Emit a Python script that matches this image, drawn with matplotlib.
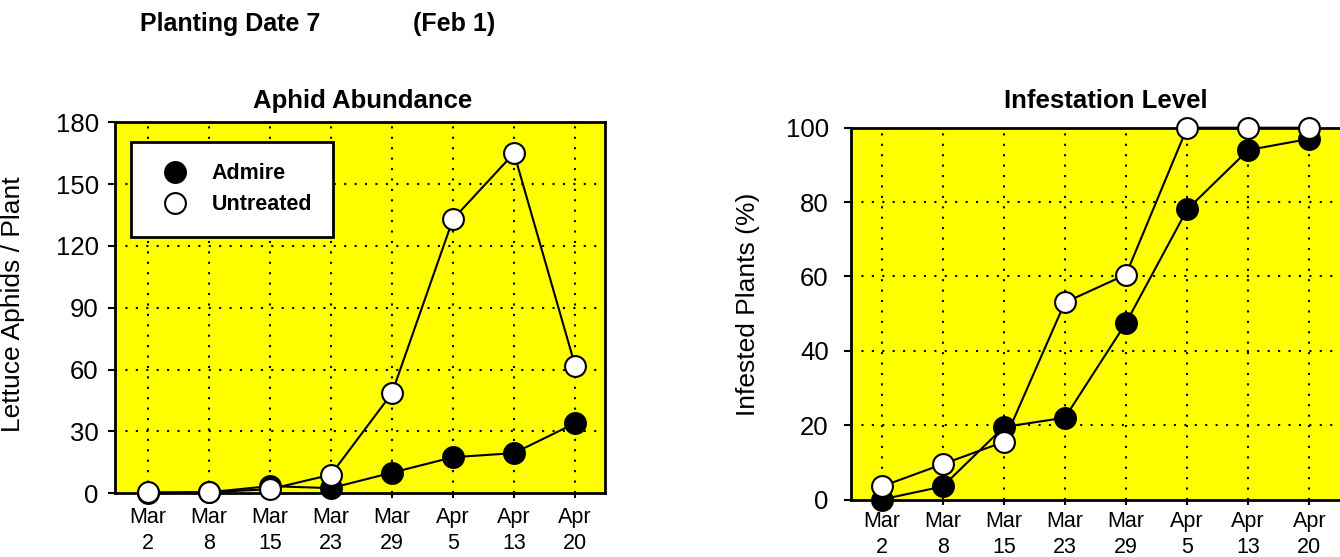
import numpy as np
import matplotlib
matplotlib.use('Agg')
import matplotlib.pyplot as plt
from matplotlib.lines import Line2D

plt.rcParams['font.family'] = ['Liberation Sans', 'DejaVu Sans']

# sampling dates (equally spaced categories)
dates = ['Mar\n2', 'Mar\n8', 'Mar\n15', 'Mar\n23', 'Mar\n29', 'Apr\n5', 'Apr\n13', 'Apr\n20']

# lettuce aphids per plant
aphid_admire = [0, 0.5, 3.5, 2.5, 10, 17.5, 19.5, 34]
aphid_untreated = [0.5, 0.5, 2, 9, 48.5, 133, 165, 62]
aphid_ticks = [0, 30, 60, 90, 120, 150, 180]

# infested plants (%)
infest_admire = [0, 3.5, 19.5, 22, 47.5, 78, 94, 97]
infest_untreated = [3.5, 9.5, 15.5, 53, 60.5, 100, 100, 100]
infest_ticks = [0, 20, 40, 60, 80, 100]

YELLOW = '#FFFF00'
MS = 15


def style_panel(ax, yticks, xlim, xpad):
    x = np.arange(len(dates))
    ax.set_facecolor(YELLOW)
    ax.set_xlim(*xlim)
    ax.set_ylim(yticks[0], yticks[-1])
    ax.set_xticks(x)
    ax.set_xticklabels(dates, fontsize=15.5, linespacing=1.3)
    ax.set_yticks(yticks)
    ax.tick_params(axis='y', direction='out', length=5, width=1.5, pad=7, labelsize=18.5)
    ax.tick_params(axis='x', direction='out', length=3.5, width=1.5, pad=xpad)
    for s in ax.spines.values():
        s.set_linewidth(2)
    # dotted grid
    for xi in x:
        ax.axvline(xi, color='black', lw=1.5, ls=(0, (1, 4)), zorder=1)
    for yi in yticks[1:-1]:
        ax.axhline(yi, color='black', lw=1.5, ls=(0, (1, 4)), zorder=1)


def draw_series(ax, admire, untreated):
    x = np.arange(len(dates))
    ax.plot(x, admire, color='black', lw=1.5, marker='o', ms=MS,
            mfc='black', mec='black', mew=1.5, clip_on=False, zorder=3)
    ax.plot(x, untreated, color='black', lw=1.5, marker='o', ms=MS,
            mfc='white', mec='black', mew=1.5, clip_on=False, zorder=4)


fig = plt.figure(figsize=(13.4, 5.57), dpi=100)
fig.patch.set_facecolor('white')

ax1 = fig.add_axes([0.08604, 0.11436, 0.36545, 0.66607])
style_panel(ax1, aphid_ticks, (-0.53, 7.49), 6.5)
draw_series(ax1, aphid_admire, aphid_untreated)
ax1.text(0.506, 1.038, 'Aphid Abundance', transform=ax1.transAxes,
         ha='center', va='baseline', fontsize=18.5, fontweight='bold')
ax1.text(-0.195, 0.51, 'Lettuce Aphids / Plant', transform=ax1.transAxes,
         rotation=90, rotation_mode='anchor', ha='center', va='baseline', fontsize=19)

handles = [
    Line2D([], [], ls='none', marker='o', ms=MS, mfc='black', mec='black', mew=1.5),
    Line2D([], [], ls='none', marker='o', ms=MS, mfc='white', mec='black', mew=1.5),
]
leg = ax1.legend(handles, ['Admire', 'Untreated'], loc='upper left',
                 bbox_to_anchor=(0.0314, 0.9477), borderaxespad=0,
                 prop={'size': 15.5, 'weight': 'bold'}, frameon=True, fancybox=False,
                 framealpha=1, edgecolor='black', handlelength=2.1, handletextpad=0.65,
                 borderpad=1.0, labelspacing=0.47)
leg.get_frame().set_linewidth(2)
leg.set_zorder(5)

# right panel runs past the picture's right edge, so its right spine is hidden
ax2 = fig.add_axes([0.63507, 0.10323, 0.36716, 0.66750])
style_panel(ax2, infest_ticks, (-0.5, 7.55), 5)
ax2.tick_params(axis='y', pad=11)
draw_series(ax2, infest_admire, infest_untreated)
ax2.text(0.518, 1.053, 'Infestation Level', transform=ax2.transAxes,
         ha='center', va='baseline', fontsize=18.5, fontweight='bold')
ax2.text(-0.196, 0.525, 'Infested Plants (%)', transform=ax2.transAxes,
         rotation=90, rotation_mode='anchor', ha='center', va='baseline', fontsize=19)

fig.text(140 / 1340, 1 - 31 / 557, 'Planting Date 7', ha='left', va='baseline',
         fontsize=18, fontweight='bold')
fig.text(413 / 1340, 1 - 31 / 557, '(Feb 1)', ha='left', va='baseline',
         fontsize=18, fontweight='bold')

fig.savefig('out.png', dpi=100, facecolor='white')
